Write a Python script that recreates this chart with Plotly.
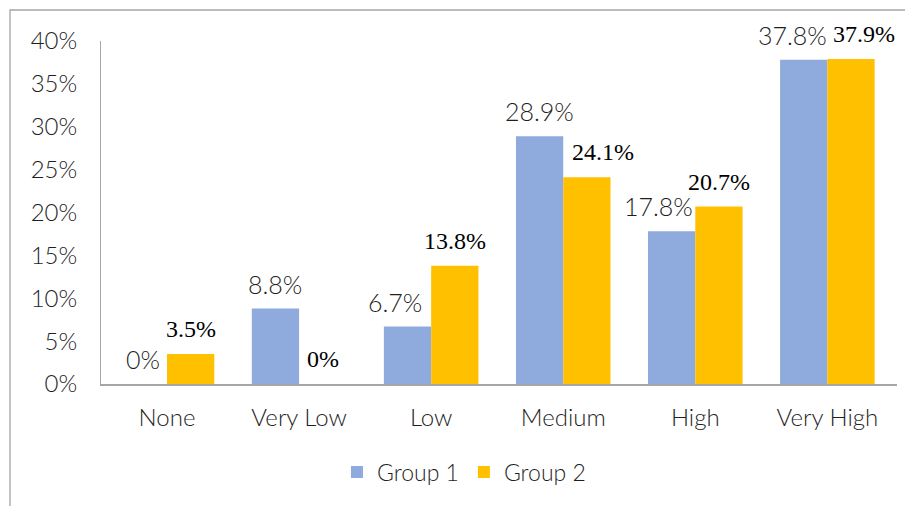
import plotly.graph_objects as go

categories = ["None", "Very Low", "Low", "Medium", "High", "Very High"]
group1 = [0, 8.8, 6.7, 28.9, 17.8, 37.8]
group2 = [3.5, 0, 13.8, 24.1, 20.7, 37.9]
group1_labels = ["0%", "8.8%", "6.7%", "28.9%", "17.8%", "37.8%"]
group2_labels = ["3.5%", "0%", "13.8%", "24.1%", "20.7%", "37.9%"]
y_ticks = [0, 5, 10, 15, 20, 25, 30, 35, 40]
y_tick_labels = [f"{v}%" for v in y_ticks]

# label nudges (style only)
g1_xshift = [0, 0, -13, 0, -13, -11]
g2_xshift = [0, 0, 0, 16, 0, 13]

BLUE = "#8FAADC"
GOLD = "#FFC000"
SANS = "Lato Light, Lato, sans-serif"
SERIF = "Liberation Serif"
TXT = "#1f1f1f"

bargap = 0.284
half = (1 - bargap) / 4  # center offset of each bar within group

fig = go.Figure()
fig.add_trace(go.Bar(name="Group 1", x=categories, y=group1,
                     marker=dict(color=BLUE, line=dict(width=0))))
fig.add_trace(go.Bar(name="Group 2", x=categories, y=group2,
                     marker=dict(color=GOLD, line=dict(width=0))))

annotations = []
for i, (v, t, dx) in enumerate(zip(group1, group1_labels, g1_xshift)):
    annotations.append(dict(x=i - half, y=v, xref="x", yref="y", text=t,
                            showarrow=False, yanchor="middle", xanchor="center",
                            yshift=25, xshift=dx,
                            font=dict(family=SANS, size=25, color=TXT, weight=300)))
for i, (v, t, dx) in enumerate(zip(group2, group2_labels, g2_xshift)):
    annotations.append(dict(x=i + half, y=v, xref="x", yref="y", text=t,
                            showarrow=False, yanchor="middle", xanchor="center",
                            yshift=25, xshift=dx,
                            font=dict(family=SERIF, size=24, color="#000000", weight="normal")))

fig.update_layout(
    width=905, height=498,
    margin=dict(l=93, r=16, t=33, b=122),
    paper_bgcolor="white", plot_bgcolor="white",
    barmode="group", bargap=bargap, bargroupgap=0,
    font=dict(family=SANS, size=22, color=TXT, weight=300),
    showlegend=True,
    legend=dict(orientation="h", x=0.456, y=-0.257, xanchor="center", yanchor="middle",
                font=dict(family=SANS, size=23, color=TXT, weight=300),
                itemwidth=30, traceorder="normal"),
    annotations=annotations,
    shapes=[dict(type="rect", xref="paper", yref="paper",
                 x0=-0.1143, x1=1.2, y0=-0.6, y1=1.0904,
                 line=dict(color="#A6A6A6", width=1.3), fillcolor="rgba(0,0,0,0)",
                 layer="below")],
)
fig.update_xaxes(type="category", showline=True, linecolor="#A6A6A6", linewidth=2,
                 showgrid=False, ticks="", ticklabelstandoff=11,
                 tickfont=dict(family=SANS, size=24, color=TXT, weight=300))
fig.update_yaxes(range=[0, 40], tickvals=y_ticks, ticktext=y_tick_labels,
                 showline=True, linecolor="#A6A6A6", linewidth=1,
                 showgrid=False, zeroline=False, ticks="", ticklabelstandoff=18,
                 tickfont=dict(family=SANS, size=24, color=TXT, weight=300))

fig.write_html("out.html")
